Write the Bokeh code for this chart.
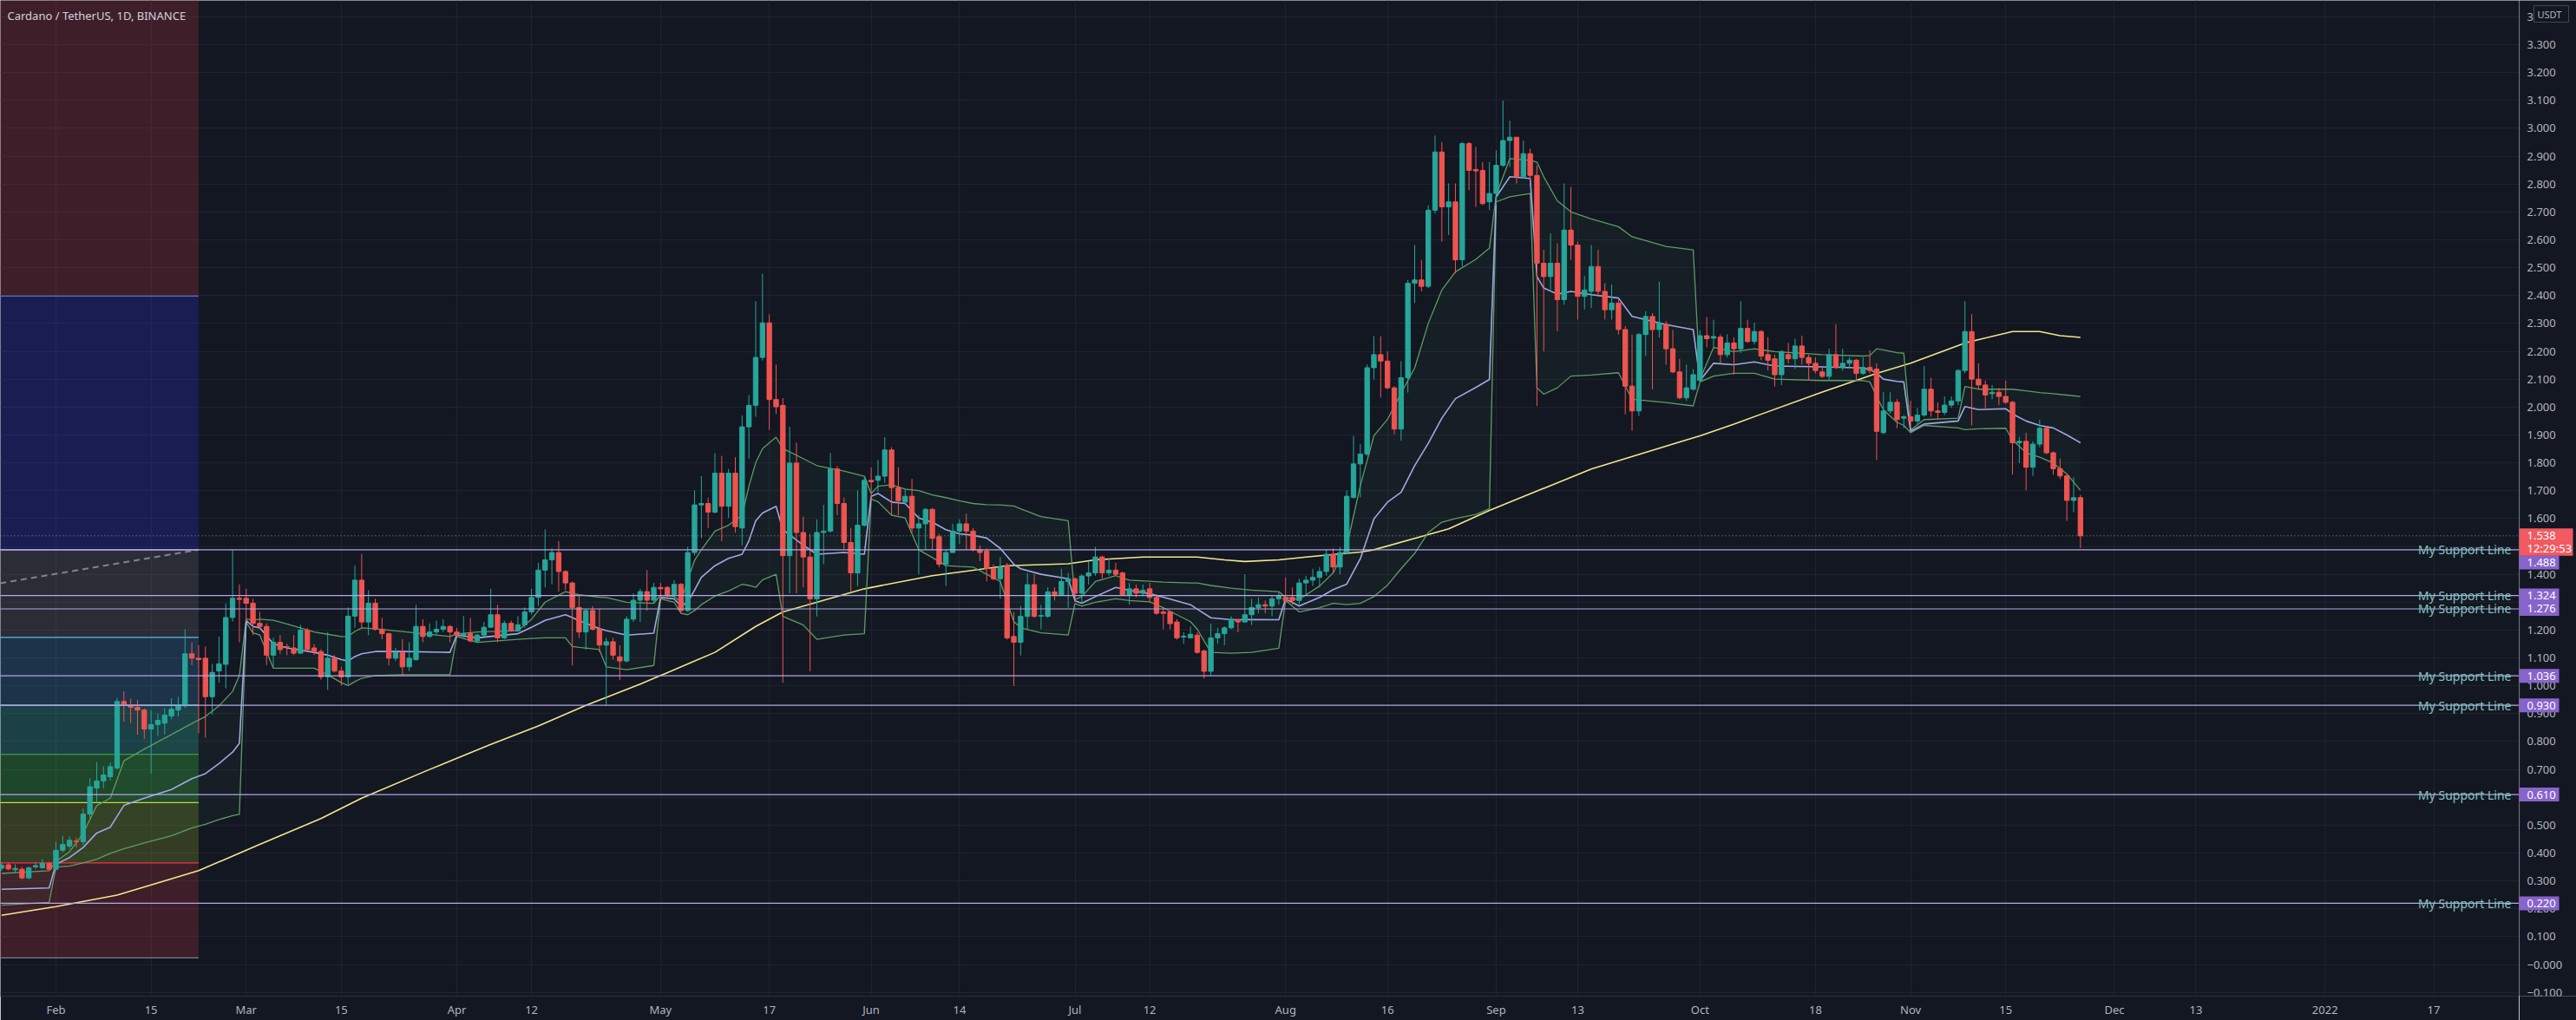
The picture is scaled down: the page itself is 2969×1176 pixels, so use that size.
import pandas as pd
from bokeh.plotting import figure
from bokeh.layouts import row
from bokeh.models import ColumnDataSource, FixedTicker, Label, Range1d, Span, Grid
from bokeh.embed import file_html
from bokeh.resources import INLINE
from bokeh.core.properties import value

# ---------------- data ----------------
title_text = "Cardano / TetherUS, 1D, BINANCE"
first_day = "2021-01-24"
base_day = "2021-02-01"

opens = [
    0.346, 0.358, 0.340, 0.342, 0.311, 0.350, 0.347, 0.363, 0.342, 0.410,
    0.425, 0.443, 0.441, 0.540, 0.633, 0.659, 0.674, 0.705, 0.944, 0.928,
    0.923, 0.913, 0.845, 0.861, 0.866, 0.892, 0.913, 0.928, 1.115, 1.099,
    1.099, 0.961, 1.053, 1.077, 1.245, 1.314, 1.314, 1.296, 1.224, 1.213,
    1.110, 1.156, 1.140, 1.136, 1.117, 1.200, 1.136, 1.123, 1.032, 1.099,
    1.053, 1.032, 1.250, 1.379, 1.229, 1.296, 1.203, 1.187, 1.099, 1.120,
    1.068, 1.094, 1.213, 1.177, 1.193, 1.203, 1.213, 1.193, 1.182, 1.187,
    1.161, 1.182, 1.210, 1.255, 1.172, 1.224, 1.198, 1.219, 1.265, 1.317,
    1.415, 1.452, 1.478, 1.410, 1.369, 1.281, 1.193, 1.270, 1.203, 1.146,
    1.158, 1.104, 1.089, 1.239, 1.307, 1.338, 1.307, 1.353, 1.353, 1.327,
    1.364, 1.270, 1.478, 1.649, 1.654, 1.623, 1.763, 1.644, 1.763, 1.566,
    1.929, 2.006, 2.178, 2.302, 2.027, 2.006, 1.467, 1.799, 1.550, 1.462,
    1.312, 1.550, 1.555, 1.778, 1.654, 1.514, 1.405, 1.576, 1.737, 1.737,
    1.752, 1.846, 1.711, 1.659, 1.680, 1.566, 1.581, 1.633, 1.535, 1.436,
    1.478, 1.555, 1.581, 1.555, 1.488, 1.483, 1.421, 1.384, 1.431, 1.177,
    1.156, 1.249, 1.363, 1.250, 1.249, 1.337, 1.327, 1.374, 1.384, 1.332,
    1.394, 1.405, 1.462, 1.405, 1.415, 1.405, 1.327, 1.348, 1.332, 1.348,
    1.317, 1.265, 1.265, 1.229, 1.175, 1.172, 1.182, 1.125, 1.052, 1.172,
    1.187, 1.208, 1.237, 1.229, 1.255, 1.281, 1.291, 1.286, 1.312, 1.317,
    1.317, 1.306, 1.369, 1.379, 1.389, 1.410, 1.472, 1.426, 1.478, 1.676,
    1.796, 1.831, 2.141, 2.188, 2.165, 2.069, 1.921, 2.105, 2.444, 2.456,
    2.433, 2.706, 2.915, 2.718, 2.736, 2.528, 2.945, 2.852, 2.849, 2.736,
    2.766, 2.867, 2.956, 2.968, 2.826, 2.909, 2.831, 2.516, 2.468, 2.516,
    2.385, 2.635, 2.581, 2.397, 2.415, 2.504, 2.415, 2.349, 2.373, 2.278,
    2.075, 1.986, 2.260, 2.325, 2.278, 2.297, 2.209, 2.126, 2.033, 2.064,
    2.095, 2.256, 2.247, 2.251, 2.188, 2.230, 2.209, 2.282, 2.235, 2.271,
    2.188, 2.173, 2.116, 2.188, 2.173, 2.219, 2.178, 2.157, 2.126, 2.110,
    2.188, 2.142, 2.157, 2.168, 2.121, 2.142, 2.136, 1.908, 1.986, 2.017,
    1.960, 1.965, 1.950, 1.971, 2.064, 1.986, 1.981, 2.007, 2.022, 2.131,
    2.271, 2.100, 2.079, 2.048, 2.053, 2.038, 2.017, 1.872, 1.877, 1.784,
    1.867, 1.924, 1.836, 1.779, 1.753, 1.665, 1.675,
]
highs = [
    0.366, 0.365, 0.360, 0.350, 0.352, 0.368, 0.379, 0.368, 0.441, 0.462,
    0.460, 0.456, 0.560, 0.669, 0.726, 0.711, 0.725, 0.957, 0.980, 0.954,
    0.949, 0.918, 0.913, 0.900, 0.920, 0.955, 0.960, 1.203, 1.156, 1.146,
    1.141, 1.079, 1.177, 1.296, 1.488, 1.364, 1.348, 1.312, 1.265, 1.224,
    1.172, 1.182, 1.151, 1.182, 1.219, 1.208, 1.150, 1.131, 1.193, 1.110,
    1.068, 1.281, 1.431, 1.473, 1.343, 1.312, 1.244, 1.190, 1.136, 1.167,
    1.156, 1.291, 1.239, 1.224, 1.234, 1.239, 1.218, 1.208, 1.250, 1.244,
    1.187, 1.229, 1.348, 1.291, 1.234, 1.234, 1.250, 1.281, 1.348, 1.441,
    1.561, 1.493, 1.519, 1.415, 1.374, 1.322, 1.276, 1.286, 1.276, 1.172,
    1.172, 1.146, 1.250, 1.332, 1.348, 1.415, 1.369, 1.369, 1.358, 1.379,
    1.369, 1.499, 1.701, 1.752, 1.675, 1.835, 1.825, 1.778, 1.820, 1.970,
    2.043, 2.380, 2.478, 2.333, 2.152, 2.032, 1.929, 1.872, 1.607, 1.545,
    1.597, 1.649, 1.835, 1.789, 1.675, 1.566, 1.701, 1.752, 1.783, 1.810,
    1.892, 1.856, 1.784, 1.706, 1.742, 1.612, 1.638, 1.638, 1.545, 1.488,
    1.581, 1.597, 1.618, 1.566, 1.504, 1.493, 1.436, 1.462, 1.441, 1.265,
    1.286, 1.405, 1.400, 1.291, 1.353, 1.353, 1.420, 1.405, 1.389, 1.400,
    1.446, 1.498, 1.467, 1.457, 1.441, 1.410, 1.369, 1.363, 1.363, 1.369,
    1.322, 1.280, 1.270, 1.239, 1.192, 1.213, 1.192, 1.130, 1.223, 1.208,
    1.213, 1.249, 1.239, 1.400, 1.312, 1.317, 1.306, 1.322, 1.337, 1.389,
    1.353, 1.384, 1.395, 1.420, 1.426, 1.488, 1.493, 1.498, 1.700, 1.897,
    1.867, 2.153, 2.254, 2.254, 2.200, 2.075, 2.165, 2.456, 2.581, 2.528,
    2.724, 2.974, 2.950, 2.802, 2.802, 2.951, 2.951, 2.933, 2.879, 2.879,
    2.921, 3.099, 3.028, 2.968, 2.956, 2.927, 2.867, 2.564, 2.623, 2.587,
    2.802, 2.790, 2.593, 2.470, 2.581, 2.564, 2.444, 2.439, 2.385, 2.290,
    2.260, 2.266, 2.343, 2.337, 2.450, 2.308, 2.276, 2.173, 2.152, 2.136,
    2.276, 2.323, 2.313, 2.261, 2.261, 2.250, 2.380, 2.313, 2.302, 2.276,
    2.251, 2.188, 2.204, 2.230, 2.245, 2.256, 2.188, 2.178, 2.142, 2.209,
    2.297, 2.209, 2.178, 2.173, 2.178, 2.204, 2.157, 2.053, 2.053, 2.028,
    1.971, 2.022, 1.997, 2.147, 2.105, 2.017, 2.038, 2.038, 2.136, 2.380,
    2.333, 2.157, 2.095, 2.079, 2.069, 2.095, 2.022, 1.893, 1.908, 1.877,
    1.955, 1.929, 1.841, 1.815, 1.758, 1.748, 1.685,
]
lows = [
    0.336, 0.338, 0.327, 0.305, 0.306, 0.342, 0.344, 0.338, 0.336, 0.403,
    0.415, 0.420, 0.430, 0.524, 0.581, 0.633, 0.660, 0.700, 0.871, 0.866,
    0.825, 0.809, 0.685, 0.820, 0.825, 0.880, 0.890, 0.920, 1.074, 0.830,
    0.814, 0.897, 1.011, 0.991, 1.230, 1.156, 1.229, 1.182, 1.203, 1.074,
    1.068, 1.115, 1.110, 1.110, 1.115, 1.120, 1.110, 1.022, 0.985, 1.048,
    1.001, 1.006, 1.208, 1.210, 1.182, 1.198, 1.167, 1.073, 1.089, 1.037,
    1.053, 1.090, 1.156, 1.172, 1.182, 1.193, 1.156, 1.177, 1.172, 1.156,
    1.156, 1.177, 1.208, 1.156, 1.167, 1.193, 1.193, 1.208, 1.255, 1.286,
    1.353, 1.364, 1.338, 1.343, 1.073, 1.172, 1.130, 1.198, 1.120, 0.928,
    1.094, 1.021, 1.084, 1.229, 1.229, 1.270, 1.296, 1.312, 1.312, 1.312,
    1.260, 1.265, 1.467, 1.530, 1.566, 1.618, 1.519, 1.602, 1.550, 1.504,
    1.815, 1.965, 2.167, 1.918, 1.975, 1.011, 1.332, 1.332, 1.353, 1.052,
    1.249, 1.436, 1.550, 1.612, 1.488, 1.338, 1.358, 1.571, 1.664, 1.695,
    1.727, 1.612, 1.612, 1.649, 1.550, 1.400, 1.488, 1.488, 1.426, 1.358,
    1.478, 1.509, 1.488, 1.483, 1.447, 1.374, 1.379, 1.312, 1.166, 1.000,
    1.109, 1.203, 1.244, 1.203, 1.244, 1.306, 1.322, 1.280, 1.301, 1.296,
    1.363, 1.395, 1.384, 1.395, 1.395, 1.322, 1.291, 1.317, 1.322, 1.301,
    1.255, 1.203, 1.203, 1.166, 1.151, 1.170, 1.115, 1.026, 1.037, 1.151,
    1.146, 1.203, 1.192, 1.226, 1.218, 1.260, 1.260, 1.249, 1.291, 1.296,
    1.291, 1.291, 1.322, 1.358, 1.353, 1.395, 1.405, 1.400, 1.472, 1.671,
    1.676, 1.825, 2.099, 2.034, 2.064, 1.903, 1.879, 2.052, 2.373, 2.415,
    2.427, 2.694, 2.593, 2.617, 2.480, 2.504, 2.778, 2.718, 2.724, 2.706,
    2.724, 2.861, 2.861, 2.802, 2.820, 2.814, 2.004, 2.200, 2.421, 2.272,
    2.367, 2.528, 2.314, 2.350, 2.355, 2.397, 2.314, 2.314, 2.260, 1.974,
    1.915, 1.968, 2.183, 2.064, 2.250, 2.152, 2.121, 2.028, 2.022, 2.059,
    2.090, 2.214, 2.214, 2.157, 2.178, 2.116, 2.194, 2.230, 2.225, 2.168,
    2.131, 2.074, 2.079, 2.157, 2.137, 2.152, 2.095, 2.121, 2.105, 2.095,
    2.136, 2.131, 2.142, 2.095, 2.116, 2.121, 1.810, 1.903, 1.976, 1.924,
    1.924, 1.924, 1.940, 1.965, 1.965, 1.955, 1.971, 1.997, 2.007, 2.121,
    1.934, 2.064, 1.997, 2.028, 2.007, 2.012, 1.758, 1.799, 1.701, 1.753,
    1.856, 1.831, 1.758, 1.742, 1.592, 1.623, 1.494,
]
closes = [
    0.356, 0.343, 0.345, 0.311, 0.347, 0.355, 0.363, 0.342, 0.410, 0.431,
    0.446, 0.441, 0.540, 0.638, 0.659, 0.680, 0.710, 0.944, 0.933, 0.923,
    0.913, 0.845, 0.861, 0.876, 0.895, 0.916, 0.928, 1.115, 1.099, 1.094,
    0.961, 1.048, 1.079, 1.245, 1.314, 1.310, 1.296, 1.224, 1.213, 1.110,
    1.156, 1.130, 1.139, 1.117, 1.200, 1.130, 1.123, 1.032, 1.099, 1.053,
    1.032, 1.250, 1.379, 1.229, 1.296, 1.203, 1.187, 1.099, 1.120, 1.068,
    1.099, 1.213, 1.177, 1.193, 1.203, 1.213, 1.193, 1.182, 1.187, 1.161,
    1.182, 1.210, 1.255, 1.172, 1.224, 1.198, 1.219, 1.265, 1.317, 1.415,
    1.452, 1.478, 1.410, 1.369, 1.281, 1.193, 1.270, 1.203, 1.146, 1.158,
    1.110, 1.089, 1.239, 1.307, 1.338, 1.307, 1.353, 1.348, 1.327, 1.364,
    1.270, 1.478, 1.649, 1.654, 1.623, 1.763, 1.644, 1.763, 1.571, 1.929,
    2.006, 2.178, 2.302, 2.027, 2.001, 1.467, 1.799, 1.550, 1.462, 1.312,
    1.550, 1.555, 1.778, 1.654, 1.514, 1.405, 1.576, 1.737, 1.732, 1.752,
    1.846, 1.711, 1.664, 1.680, 1.566, 1.581, 1.633, 1.529, 1.436, 1.478,
    1.555, 1.581, 1.555, 1.488, 1.478, 1.421, 1.384, 1.426, 1.172, 1.156,
    1.249, 1.363, 1.249, 1.252, 1.337, 1.327, 1.374, 1.384, 1.332, 1.394,
    1.405, 1.462, 1.405, 1.415, 1.400, 1.327, 1.348, 1.332, 1.343, 1.317,
    1.260, 1.260, 1.223, 1.172, 1.178, 1.185, 1.120, 1.052, 1.172, 1.187,
    1.208, 1.239, 1.229, 1.255, 1.281, 1.291, 1.286, 1.312, 1.322, 1.306,
    1.306, 1.369, 1.379, 1.389, 1.410, 1.472, 1.426, 1.478, 1.680, 1.796,
    1.831, 2.141, 2.188, 2.165, 2.069, 1.921, 2.105, 2.444, 2.456, 2.433,
    2.706, 2.915, 2.718, 2.736, 2.528, 2.945, 2.849, 2.847, 2.730, 2.766,
    2.867, 2.956, 2.968, 2.826, 2.909, 2.831, 2.516, 2.468, 2.516, 2.385,
    2.635, 2.581, 2.397, 2.420, 2.504, 2.415, 2.349, 2.373, 2.278, 2.075,
    1.986, 2.260, 2.325, 2.278, 2.302, 2.209, 2.126, 2.033, 2.069, 2.116,
    2.256, 2.245, 2.253, 2.188, 2.230, 2.209, 2.282, 2.235, 2.271, 2.183,
    2.168, 2.116, 2.199, 2.173, 2.219, 2.178, 2.157, 2.131, 2.110, 2.188,
    2.142, 2.157, 2.168, 2.121, 2.142, 2.131, 1.913, 1.986, 2.017, 1.955,
    1.965, 1.950, 1.971, 2.064, 1.986, 1.981, 2.007, 2.022, 2.131, 2.271,
    2.100, 2.079, 2.043, 2.053, 2.038, 2.017, 1.872, 1.877, 1.784, 1.867,
    1.924, 1.836, 1.779, 1.753, 1.665, 1.675, 1.538,
]

# long moving average (yellow), sampled: days since 2021-02-01
ma_day = [-8, 0, 9, 21, 30, 39, 45, 55, 64, 71,
          78, 86, 97, 103, 107, 119, 129, 140, 149, 153,
          160, 168, 172, 175, 180, 184, 192, 194, 205, 211,
          226, 242, 247, 260, 268, 273, 281, 288, 292, 295,
          298]
ma_val = [0.177, 0.208, 0.249, 0.337, 0.431, 0.524, 0.597, 0.700, 0.790, 0.856,
          0.930, 1.006, 1.120, 1.213, 1.265, 1.348, 1.395, 1.431, 1.438, 1.452,
          1.462, 1.462, 1.452, 1.446, 1.452, 1.462, 1.480, 1.488, 1.563, 1.629,
          1.778, 1.897, 1.939, 2.054, 2.121, 2.157, 2.230, 2.271, 2.271, 2.256,
          2.250]

# monthly anchored VWAP with bands, sampled: days since 2021-02-01
vw_day = [-8, -1,
          0, 2, 4, 6, 8, 10, 13, 17, 20, 22, 24, 26, 27,
          28, 29, 30, 32, 34, 38, 40, 42, 43, 44, 45, 47, 51, 58,
          59, 62, 68, 70, 72, 75, 76, 77, 80, 81, 84, 88,
          89, 91, 92, 93, 94, 95, 97, 99, 101, 102, 103, 104, 106, 107, 110, 112, 116, 119,
          120, 121, 123, 125, 127, 129, 131, 133, 135, 137, 139, 141, 142, 145, 149,
          150, 151, 153, 156, 158, 161, 163, 167, 168, 170, 173, 176, 180,
          181, 183, 186, 188, 190, 192, 194, 196, 198, 200, 202, 204, 206, 209, 211,
          212, 214, 217, 218, 219, 221, 223, 226, 230, 232, 237, 241,
          242, 244, 247, 250, 253, 260, 266, 267, 268, 269, 271, 272,
          273, 275, 280, 281, 283, 287, 288, 290, 292, 294, 296, 298]
vw_mid = [0.270, 0.275,
          0.360, 0.384, 0.420, 0.472, 0.493, 0.571, 0.597, 0.628, 0.667, 0.685, 0.721, 0.762, 0.794,
          1.234, 1.213, 1.208, 1.151, 1.136, 1.120, 1.110, 1.094, 1.089, 1.105, 1.115, 1.123, 1.123, 1.120,
          1.182, 1.172, 1.187, 1.210, 1.235, 1.255, 1.245, 1.234, 1.205, 1.198, 1.182, 1.189,
          1.317, 1.312, 1.286, 1.300, 1.343, 1.389, 1.431, 1.457, 1.472, 1.520, 1.592, 1.620, 1.644, 1.560, 1.504, 1.472, 1.478, 1.472,
          1.680, 1.690, 1.659, 1.654, 1.602, 1.587, 1.560, 1.545, 1.540, 1.530, 1.493, 1.436, 1.420, 1.400, 1.384,
          1.305, 1.296, 1.320, 1.353, 1.343, 1.330, 1.318, 1.291, 1.275, 1.244, 1.237, 1.238, 1.237,
          1.312, 1.286, 1.317, 1.345, 1.365, 1.456, 1.599, 1.659, 1.694, 1.790, 1.870, 1.960, 2.030, 2.070, 2.099,
          2.754, 2.826, 2.820, 2.468, 2.427, 2.405, 2.415, 2.403, 2.391, 2.325, 2.296, 2.278,
          2.095, 2.157, 2.152, 2.162, 2.147, 2.144, 2.140, 2.135, 2.121, 2.100, 2.092, 2.090,
          1.913, 1.939, 1.950, 2.002, 1.991, 1.994, 1.975, 1.950, 1.934, 1.925, 1.900, 1.872]
vw_up = [0.327, 0.337,
         0.370, 0.405, 0.470, 0.570, 0.597, 0.731, 0.773, 0.825, 0.865, 0.890, 0.928, 0.980, 1.037,
         1.240, 1.236, 1.239, 1.235, 1.222, 1.193, 1.185, 1.177, 1.177, 1.195, 1.208, 1.205, 1.195, 1.177,
         1.186, 1.193, 1.198, 1.239, 1.300, 1.338, 1.332, 1.327, 1.318, 1.317, 1.300, 1.296,
         1.325, 1.320, 1.301, 1.380, 1.450, 1.488, 1.555, 1.576, 1.612, 1.716, 1.800, 1.851, 1.892, 1.851, 1.815, 1.790, 1.770, 1.752,
         1.690, 1.716, 1.721, 1.706, 1.700, 1.685, 1.675, 1.664, 1.654, 1.650, 1.649, 1.645, 1.635, 1.607, 1.592,
         1.310, 1.320, 1.374, 1.395, 1.379, 1.375, 1.372, 1.369, 1.369, 1.360, 1.350, 1.343, 1.338,
         1.317, 1.310, 1.358, 1.405, 1.500, 1.718, 1.897, 1.956, 2.050, 2.140, 2.300, 2.420, 2.485, 2.530, 2.570,
         2.760, 2.891, 2.885, 2.879, 2.826, 2.740, 2.700, 2.675, 2.647, 2.611, 2.576, 2.564,
         2.100, 2.214, 2.199, 2.209, 2.199, 2.188, 2.183, 2.185, 2.209, 2.205, 2.195, 2.193,
         1.918, 1.955, 1.960, 2.074, 2.064, 2.064, 2.064, 2.058, 2.052, 2.048, 2.043, 2.038]
vw_lo = [0.213, 0.223,
         0.350, 0.353, 0.365, 0.378, 0.399, 0.415, 0.436, 0.462, 0.490, 0.503, 0.520, 0.534, 0.539,
         1.228, 1.190, 1.182, 1.063, 1.063, 1.063, 1.040, 1.011, 1.001, 1.015, 1.027, 1.037, 1.040, 1.040,
         1.177, 1.156, 1.167, 1.170, 1.172, 1.172, 1.141, 1.138, 1.130, 1.068, 1.058, 1.073,
         1.312, 1.300, 1.260, 1.255, 1.270, 1.291, 1.322, 1.340, 1.364, 1.360, 1.353, 1.380, 1.400, 1.249, 1.218, 1.167, 1.182, 1.187,
         1.670, 1.660, 1.612, 1.602, 1.488, 1.460, 1.431, 1.428, 1.426, 1.400, 1.374, 1.230, 1.208, 1.190, 1.182,
         1.295, 1.286, 1.300, 1.312, 1.306, 1.301, 1.280, 1.230, 1.203, 1.120, 1.117, 1.120, 1.135,
         1.306, 1.265, 1.280, 1.296, 1.291, 1.296, 1.320, 1.361, 1.420, 1.475, 1.550, 1.587, 1.600, 1.615, 1.635,
         2.736, 2.754, 2.766, 2.069, 2.046, 2.069, 2.111, 2.115, 2.123, 2.028, 2.016, 2.004,
         2.090, 2.111, 2.121, 2.121, 2.100, 2.095, 2.095, 2.090, 2.038, 1.990, 1.945, 1.934,
         1.908, 1.934, 1.925, 1.919, 1.922, 1.924, 1.882, 1.836, 1.820, 1.799, 1.760, 1.701]

support_levels = [1.488, 1.324, 1.276, 1.036, 0.930, 0.610, 0.220]
support_text = "My Support Line"

# Fibonacci-style zones drawn on the left
fib_levels = [0.024, 0.365, 0.581, 0.754, 0.930, 1.174, 1.488, 2.398, 3.60]
fib_fill = ["#bf333a", "#97ab2a", "#3fd342", "#33bbb2", "#3787be", "#6f6f72", "#3030e0", "#bf333a"]
fib_line_colors = ["#787b86", "#f23645", "#cddc39", "#4caf50", "#80deea", "#64b5f6", "#b4a7e8", "#5c6bc0"]
fib_end_date = "2021-02-22"
fib_trend_days = [-8.2, 21]
fib_trend_vals = [1.368, 1.488]

x_tick_dates = ["2021-02-01", "2021-02-15", "2021-03-01", "2021-03-15", "2021-04-01", "2021-04-12",
                "2021-05-01", "2021-05-17", "2021-06-01", "2021-06-14", "2021-07-01", "2021-07-12",
                "2021-08-01", "2021-08-16", "2021-09-01", "2021-09-13", "2021-10-01", "2021-10-18",
                "2021-11-01", "2021-11-15", "2021-12-01", "2021-12-13", "2022-01-01", "2022-01-17"]
x_tick_labels = ["Feb", "15", "Mar", "15", "Apr", "12", "May", "17", "Jun", "14", "Jul", "12",
                 "Aug", "16", "Sep", "13", "Oct", "18", "Nov", "15", "Dec", "13", "2022", "17"]

y_ticks = [3.4, 3.3, 3.2, 3.1, 3.0, 2.9, 2.8, 2.7, 2.6, 2.5, 2.4, 2.3, 2.2, 2.1, 2.0,
           1.9, 1.8, 1.7, 1.6, 1.4, 1.2, 1.1, 1.0, 0.9, 0.8, 0.7, 0.5, 0.4, 0.3, 0.2,
           0.1, 0.0, -0.1]
y_tick_labels = ["3", "3.300", "3.200", "3.100", "3.000", "2.900", "2.800", "2.700", "2.600",
                 "2.500", "2.400", "2.300", "2.200", "2.100", "2.000", "1.900", "1.800", "1.700",
                 "1.600", "1.400", "1.200", "1.100", "1.000", "0.900", "0.800", "0.700", "0.500",
                 "0.400", "0.300", "0.200", "0.100", "\u22120.000", "\u22120.100"]

last_price = 1.538
countdown = "12:29:53"
currency = "USDT"

# ---------------- style / geometry ----------------
BG = "#131722"
GRID = "#1f2330"
AXIS_TXT = "#b2b5be"
UP = "#26a69a"
DOWN = "#ef5350"
PURPLE = "#8763cc"
RED_TAG = "#f05a60"
FONT = "Noto Sans"

W, H = 2969, 1176
FRAME_W, FRAME_H = 2903, 1148
SCALE_W = W - FRAME_W
PX_DAY = 7.83
PX_UNIT = 321.4
X0 = -64 / PX_DAY
X1 = X0 + FRAME_W / PX_DAY
Y_TOP = 1111.6 / PX_UNIT
Y_BOT = Y_TOP - FRAME_H / PX_UNIT


def px_to_v(py):
    return Y_TOP - py / PX_UNIT


base = pd.Timestamp(base_day)
dates = pd.date_range(first_day, periods=len(opens), freq="D")
day = list((dates - base).days)

hi = [max(h, o, c) for h, o, c in zip(highs, opens, closes)]
lo = [min(l, o, c) for l, o, c in zip(lows, opens, closes)]
col = [UP if c >= o else DOWN for o, c in zip(opens, closes)]
src = ColumnDataSource(dict(
    x=day, o=opens, h=hi, l=lo, c=closes, color=col,
    top=[max(o, c) for o, c in zip(opens, closes)],
    bottom=[min(o, c) for o, c in zip(opens, closes)],
))

yr = Range1d(Y_BOT, Y_TOP)
p = figure(width=FRAME_W, height=H, output_backend="svg", toolbar_location=None,
           x_range=Range1d(X0, X1), y_range=yr, y_axis_location=None,
           min_border_left=0, min_border_top=0, min_border_right=0,
           min_border_bottom=H - FRAME_H,
           background_fill_color=BG, border_fill_color=BG, outline_line_color=None)

# x axis
x_ticks = [int((pd.Timestamp(d) - base).days) for d in x_tick_dates]
p.xaxis.ticker = FixedTicker(ticks=x_ticks)
p.xaxis.major_label_overrides = dict(zip(x_ticks, x_tick_labels))
p.xaxis.axis_line_color = "#2a2e39"
p.xaxis.major_tick_line_color = None
p.xaxis.minor_tick_line_color = None
p.xaxis.major_tick_out = 0
p.xaxis.major_tick_in = 0
p.xaxis.minor_tick_out = 0
p.xaxis.major_label_text_color = AXIS_TXT
p.xaxis.major_label_text_font_size = "13px"
p.xaxis.major_label_text_font = FONT
p.xaxis.major_label_standoff = 6
p.xgrid.grid_line_color = GRID

grid_ticks = [round(-0.1 + 0.1 * i, 1) for i in range(36)]
if len(p.ygrid) == 0:
    p.add_layout(Grid(dimension=1, ticker=FixedTicker(ticks=grid_ticks), grid_line_color=GRID))
else:
    p.ygrid.ticker = FixedTicker(ticks=grid_ticks)
    p.ygrid.grid_line_color = GRID

# fib zones
fib_end = (pd.Timestamp(fib_end_date) - base).days
nz = len(fib_levels) - 1
p.quad(left=[X0 - 2] * nz, right=[fib_end] * nz, bottom=fib_levels[:-1], top=fib_levels[1:],
       fill_color=fib_fill, fill_alpha=0.25, line_color=None)
p.segment(x0=[X0 - 2] * nz, x1=[fib_end] * nz, y0=fib_levels[:-1], y1=fib_levels[:-1],
          line_color=fib_line_colors, line_width=1.2)
p.line(fib_trend_days, fib_trend_vals, line_color="#9598a1", line_width=2, line_dash="7 5", line_alpha=0.8)

# moving average
p.line(ma_day, ma_val, line_color="#f3e68c", line_width=1.6)

# VWAP bands
p.varea(x=vw_day, y1=vw_lo, y2=vw_up, fill_color="#4caf50", fill_alpha=0.06)
p.line(vw_day, vw_up, line_color="#5e9c62", line_width=1.3)
p.line(vw_day, vw_lo, line_color="#5e9c62", line_width=1.3)
p.line(vw_day, vw_mid, line_color="#a3a6e6", line_width=1.6)

# candles
p.segment(x0="x", x1="x", y0="l", y1="h", line_color="color", line_width=1, source=src)
p.vbar(x="x", width=0.68, top="top", bottom="bottom", fill_color="color", line_color="color",
       line_width=1, source=src)

# support lines
n = len(support_levels)
p.segment(x0=[X0 - 2] * n, x1=[X1 + 2] * n, y0=support_levels, y1=support_levels,
          line_color="#b4a7e8", line_width=1.2)
p.text(x=[X1 - 9 / PX_DAY] * n, y=support_levels, text=[support_text] * n,
       text_align="right", text_baseline="middle", text_color="#82c3be",
       text_font=value(FONT), text_font_size="14px")

# current price dotted line
p.add_layout(Span(location=last_price, dimension="width", line_color="#9598a1",
                  line_dash="1 3", line_width=1))

# title
p.add_layout(Label(x=X0, y=px_to_v(17), x_offset=8, text=title_text,
                   text_align="left", text_baseline="middle", text_color="#d1d4dc",
                   text_font=FONT, text_font_size="13px"))

# ---------------- price scale (right strip sharing the y range) ----------------
s = figure(width=SCALE_W, height=H, output_backend="svg", toolbar_location=None,
           x_range=Range1d(0, SCALE_W), y_range=yr,
           x_axis_location=None, y_axis_location=None,
           min_border_left=0, min_border_top=0, min_border_right=0,
           min_border_bottom=H - FRAME_H,
           background_fill_color=BG, border_fill_color=BG, outline_line_color=None)
s.grid.visible = False

# axis line
s.segment(x0=[0.5], x1=[0.5], y0=[Y_BOT], y1=[Y_TOP], line_color="#2a2e39", line_width=1)
# tick labels
s.text(x=[9] * len(y_ticks), y=y_ticks, text=y_tick_labels, text_align="left",
       text_baseline="middle", text_color=AXIS_TXT, text_font=value(FONT), text_font_size="13px")

# currency box
s.quad(left=[17], right=[57], top=[px_to_v(6)], bottom=[px_to_v(25)],
       fill_color=BG, line_color="#434651", line_width=1)
s.text(x=[21], y=[px_to_v(15.5)], text=[currency], text_align="left", text_baseline="middle",
       text_color=AXIS_TXT, text_font=value(FONT), text_font_size="11px")

# support tags
tag_y = [px_to_v(648)] + support_levels[1:]
tag_txt = [f"{v:.3f}" for v in support_levels]
half = 8 / PX_UNIT
s.quad(left=[0] * n, right=[46] * n, top=[v + half for v in tag_y], bottom=[v - half for v in tag_y],
       fill_color=PURPLE, line_color=None)
s.text(x=[9] * n, y=tag_y, text=tag_txt, text_align="left", text_baseline="middle",
       text_color="#ffffff", text_font=value(FONT), text_font_size="13px")

# last price tag
s.quad(left=[0], right=[62], top=[last_price + 8.5 / PX_UNIT], bottom=[last_price - 23 / PX_UNIT],
       fill_color=RED_TAG, line_color=None)
s.text(x=[9, 9], y=[last_price, last_price - 14.5 / PX_UNIT], text=[f"{last_price:.3f}", countdown],
       text_align="left", text_baseline="middle", text_color="#ffffff",
       text_font=value(FONT), text_font_size="13px")

layout = row(p, s, spacing=0)
open("out.html", "w").write(file_html(layout, INLINE))
